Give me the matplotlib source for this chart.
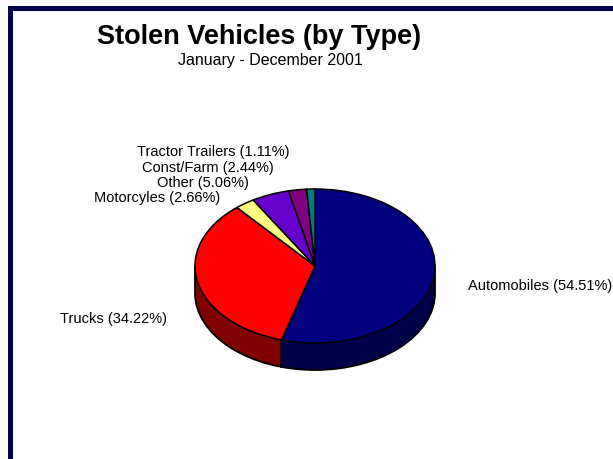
import numpy as np
import matplotlib
matplotlib.use('Agg')
import matplotlib.pyplot as plt
from matplotlib.patches import Arc, Rectangle

# data
types = ['Automobiles', 'Trucks', 'Motorcyles', 'Other', 'Const/Farm', 'Tractor Trailers']
shares = [54.51, 34.22, 2.66, 5.06, 2.44, 1.11]
top_colors = ['#000080', '#FF0000', '#FFFF80', '#6600CC', '#800080', '#008080']
side_colors = ['#000048', '#800000', '#808040', '#330066', '#400040', '#004040']

W, H = 613, 460
plt.rcParams['font.family'] = ['Liberation Sans', 'DejaVu Sans']

fig = plt.figure(figsize=(W / 100, H / 100), dpi=100)
ax = fig.add_axes([0, 0, 1, 1])

# pie geometry in pixels: centre, half axes, thickness
cx, cy, rx, ry, thick = 315, 267, 120, 77, 27
depth = thick / ry

# side wall made of stacked dark pies
for d in np.linspace(depth, 0, 45):
    ax.pie(shares, colors=side_colors, startangle=90, counterclock=False,
           center=(0, -d), wedgeprops=dict(linewidth=0))

# outline of the wall
ax.add_patch(Arc((0, -depth), 2, 2, theta1=180, theta2=360, color='black', lw=1.3))
ax.vlines([-1, 1], -depth, 0, color='black', lw=1.3)
bounds = np.radians(90 - 360 * np.cumsum(shares) / np.sum(shares))
for th in bounds:
    if np.sin(th) < 0:
        ax.plot([np.cos(th)] * 2, [np.sin(th), np.sin(th) - depth], color='black', lw=1.2)

# top face
ax.pie(shares, colors=top_colors, startangle=90, counterclock=False,
       wedgeprops=dict(edgecolor='black', linewidth=1.1))

ax.set_aspect('auto')
ax.set_xlim(-cx / rx, (W - cx) / rx)
ax.set_ylim(-(H - cy) / ry, cy / ry)
ax.axis('off')

# labels
label_pos = [(540, 286), (114, 319), (157, 198), (203, 183), (208, 168), (213, 152)]
for name, val, (px, py) in zip(types, shares, label_pos):
    fig.text(px / W, 1 - py / H, f'{name} ({val:.2f}%)', ha='center', va='center', fontsize=10.5)

fig.text(259 / W, 1 - 37 / H, 'Stolen Vehicles (by Type)', ha='center', va='center',
         fontsize=19.5, fontweight='bold')
fig.text(270 / W, 1 - 60 / H, 'January - December 2001', ha='center', va='center', fontsize=11.5)

# navy frame (top and left)
navy = '#000050'
fig.add_artist(Rectangle((8 / W, 1 - 12 / H), 1, 5 / H, transform=fig.transFigure,
                         color=navy, lw=0))
fig.add_artist(Rectangle((8 / W, 0), 5 / W, 1 - 7 / H, transform=fig.transFigure,
                         color=navy, lw=0))

fig.savefig('out.png', dpi=100, facecolor='white')
